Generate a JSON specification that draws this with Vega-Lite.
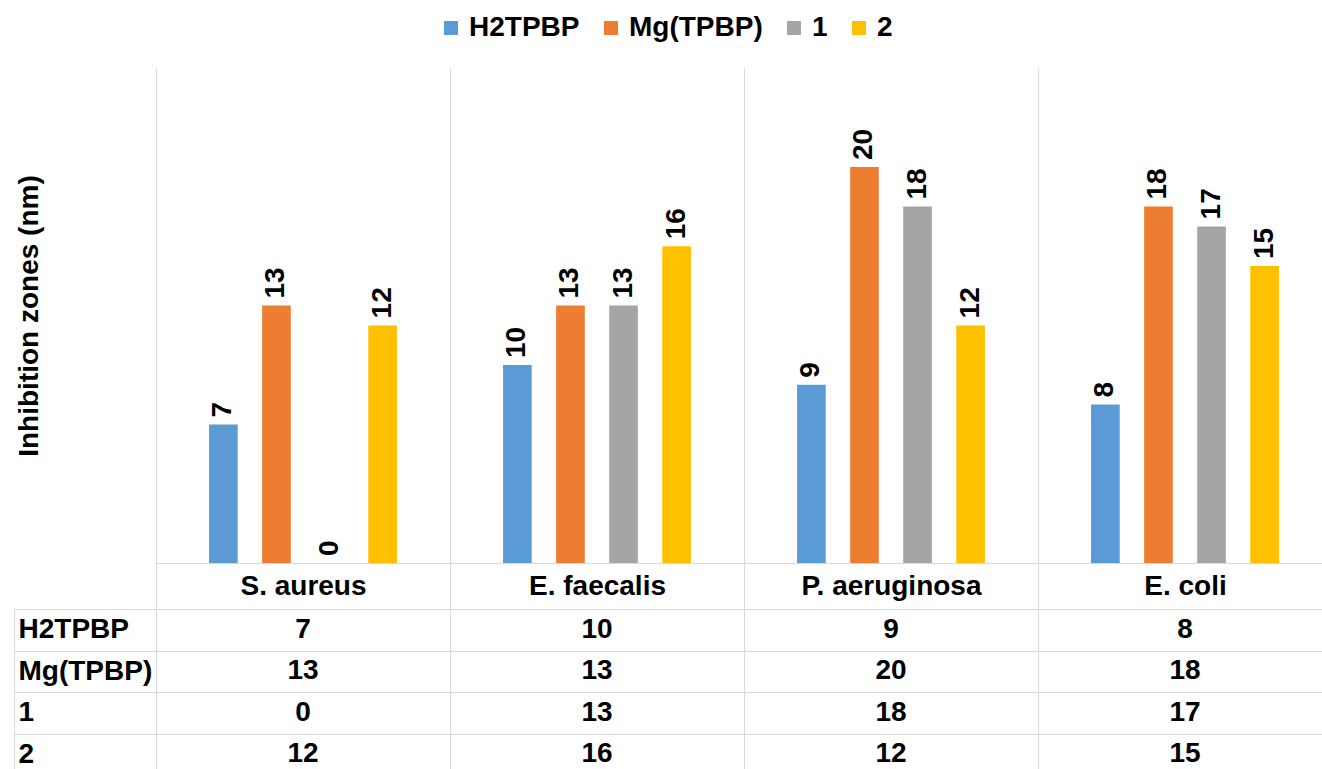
{
  "$schema": "https://vega.github.io/schema/vega-lite/v6.json",
  "autosize": {"type": "pad"},
  "padding": {"left": 13, "top": 14, "right": 0, "bottom": 0},
  "background": "white",
  "config": {
    "view": {"stroke": null},
    "font": "Liberation Sans",
    "axis": {"labelColor": "black", "titleColor": "black"}
  },
  "data": {
    "values": [
      {"Organism": "S. aureus", "Compound": "H2TPBP", "Value": 7},
      {"Organism": "S. aureus", "Compound": "Mg(TPBP)", "Value": 13},
      {"Organism": "S. aureus", "Compound": "1", "Value": 0},
      {"Organism": "S. aureus", "Compound": "2", "Value": 12},
      {"Organism": "E. faecalis", "Compound": "H2TPBP", "Value": 10},
      {"Organism": "E. faecalis", "Compound": "Mg(TPBP)", "Value": 13},
      {"Organism": "E. faecalis", "Compound": "1", "Value": 13},
      {"Organism": "E. faecalis", "Compound": "2", "Value": 16},
      {"Organism": "P. aeruginosa", "Compound": "H2TPBP", "Value": 9},
      {"Organism": "P. aeruginosa", "Compound": "Mg(TPBP)", "Value": 20},
      {"Organism": "P. aeruginosa", "Compound": "1", "Value": 18},
      {"Organism": "P. aeruginosa", "Compound": "2", "Value": 12},
      {"Organism": "E. coli", "Compound": "H2TPBP", "Value": 8},
      {"Organism": "E. coli", "Compound": "Mg(TPBP)", "Value": 18},
      {"Organism": "E. coli", "Compound": "1", "Value": 17},
      {"Organism": "E. coli", "Compound": "2", "Value": 15}
    ]
  },
  "spacing": -14,
  "vconcat": [
    {
      "width": 1176,
      "height": 495,
      "encoding": {
        "x": {
          "field": "Organism", "type": "nominal",
          "sort": ["S. aureus", "E. faecalis", "P. aeruginosa", "E. coli"],
          "scale": {"paddingInner": 0, "paddingOuter": 0},
          "axis": {
            "title": null, "labelAngle": 0, "labelFontSize": 28, "labelFontWeight": "bold", "labelLimit": 0,
            "tickBand": "extent", "ticks": true, "tickSize": 45, "tickColor": "#D9D9D9",
            "labelPadding": -22, "labelBaseline": "middle",
            "domainColor": "#D9D9D9", "grid": true, "gridColor": "#D9D9D9"
          }
        },
        "xOffset": {
          "field": "Compound", "type": "nominal",
          "sort": ["H2TPBP", "Mg(TPBP)", "1", "2"],
          "scale": {"paddingInner": 0.46, "paddingOuter": 1.17}
        },
        "y": {
          "field": "Value", "type": "quantitative",
          "scale": {"domain": [0, 25], "nice": false},
          "axis": {
            "title": "Inhibition zones (nm)", "labels": false, "ticks": false, "domain": false, "grid": false,
            "titleFontSize": 28, "titleFontWeight": "bold", "titlePadding": 113
          }
        }
      },
      "layer": [
        {
          "mark": {"type": "bar"},
          "encoding": {
            "color": {
              "field": "Compound", "type": "nominal",
              "sort": ["H2TPBP", "Mg(TPBP)", "1", "2"],
              "scale": {"domain": ["H2TPBP", "Mg(TPBP)", "1", "2"], "range": ["#5B9BD5", "#ED7D31", "#A5A5A5", "#FFC000"]},
              "legend": {
                "orient": "none", "legendX": 281, "legendY": -54, "direction": "horizontal",
                "title": null, "symbolType": "square", "symbolSize": 196, "symbolStrokeWidth": 0,
                "labelFontSize": 28, "labelFontWeight": "bold", "labelColor": "black",
                "columnPadding": 17, "labelOffset": 4
              }
            }
          }
        },
        {
          "mark": {"type": "text", "angle": 270, "align": "left", "baseline": "middle", "dx": 7, "fontSize": 28, "fontWeight": "bold", "color": "black"},
          "encoding": {"text": {"field": "Value", "type": "quantitative"}}
        }
      ]
    },
    {
      "width": 1176,
      "height": 166,
      "mark": {"type": "text", "fontSize": 28, "fontWeight": "bold", "color": "black"},
      "encoding": {
        "x": {
          "field": "Organism", "type": "nominal",
          "sort": ["S. aureus", "E. faecalis", "P. aeruginosa", "E. coli"],
          "scale": {"paddingInner": 0, "paddingOuter": 0},
          "axis": {"labels": false, "ticks": false, "domain": false, "title": null, "grid": true, "tickBand": "extent", "gridColor": "#D9D9D9"}
        },
        "y": {
          "field": "Compound", "type": "nominal",
          "sort": ["H2TPBP", "Mg(TPBP)", "1", "2"],
          "scale": {"paddingInner": 0, "paddingOuter": 0},
          "axis": {
            "title": null, "grid": true, "gridColor": "#D9D9D9", "tickBand": "extent",
            "ticks": true, "tickSize": -142, "tickColor": "#D9D9D9",
            "domain": true, "domainColor": "#D9D9D9", "offset": 142,
            "labelAlign": "left", "labelPadding": 138, "labelFontSize": 28, "labelFontWeight": "bold", "labelBaseline": "middle"
          }
        },
        "text": {"field": "Value", "type": "quantitative"}
      }
    }
  ]
}
